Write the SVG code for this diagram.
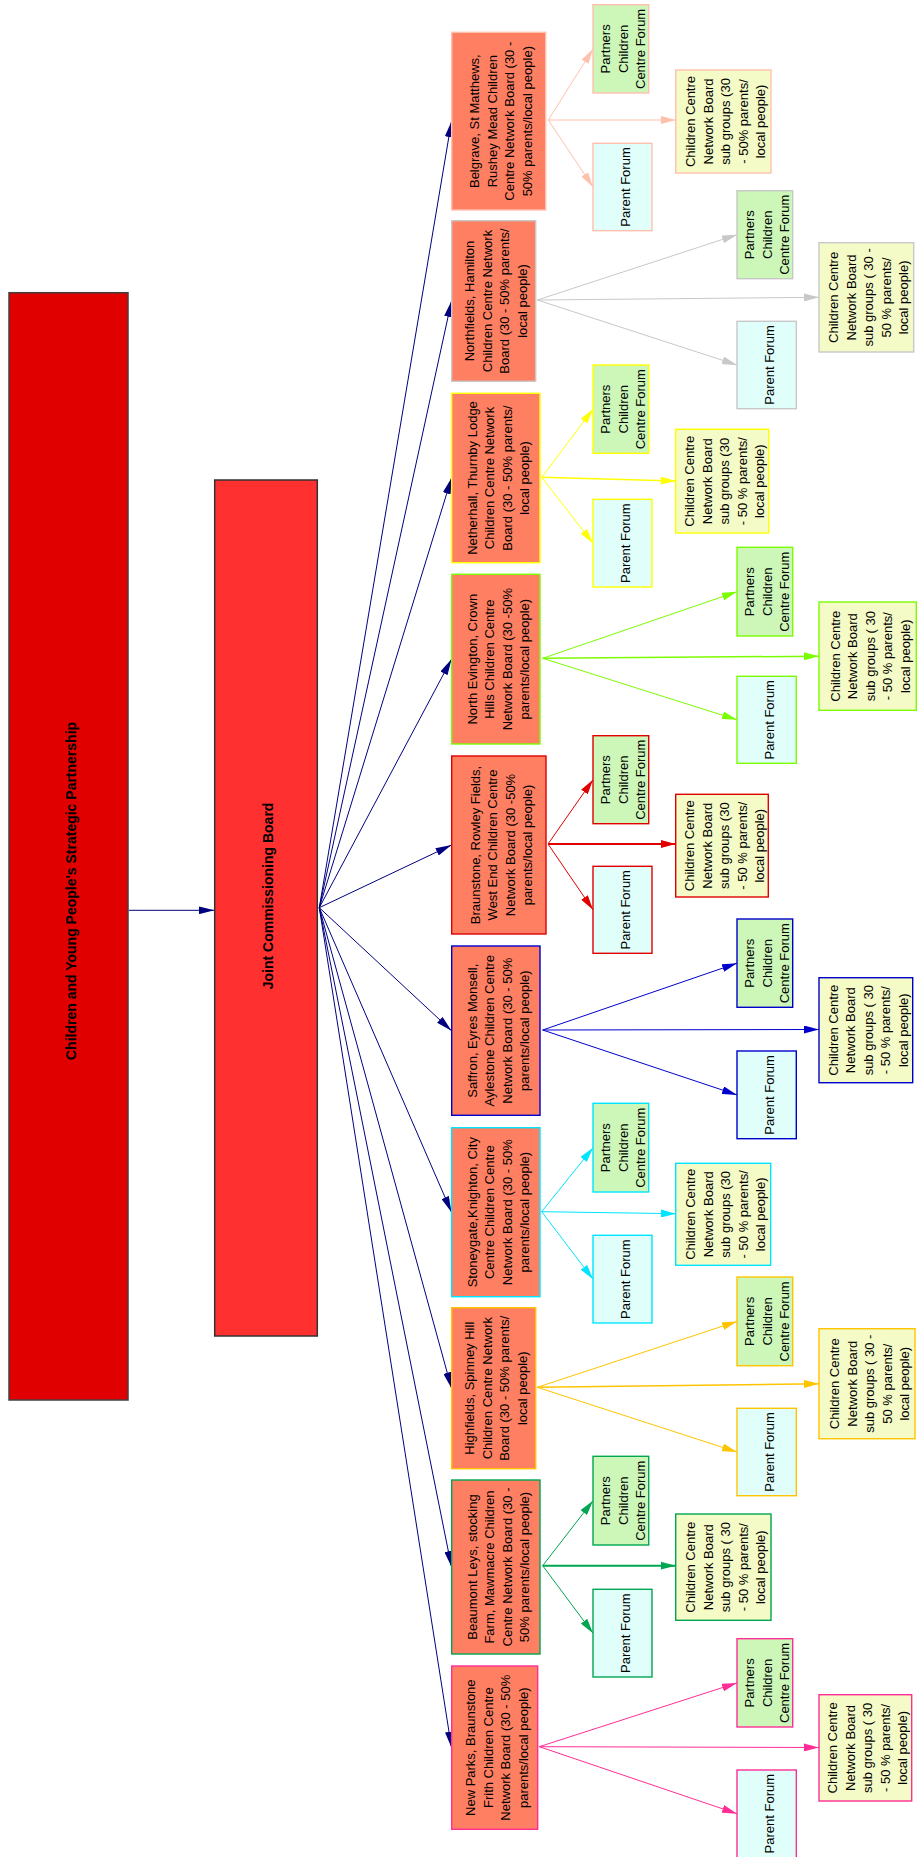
<svg xmlns="http://www.w3.org/2000/svg" width="917" height="1857" viewBox="0 0 917 1857">
<style>
text{font-family:"Liberation Sans",Arial,sans-serif;font-size:13px;fill:#000;text-anchor:middle}
.b{font-weight:bold;font-size:14px;text-anchor:start}
.area{fill:#FF7F62;stroke-width:1.4}
.pcf{fill:#CCF7B8;stroke-width:1.4}
.sub{fill:#F5FBC6;stroke-width:1.4}
.pf{fill:#E0FFFA;stroke-width:1.4}
.e{fill:none;stroke-width:1}
</style>
<defs>
<marker id="mN" viewBox="0 0 16 8" markerWidth="16" markerHeight="8" refX="16" refY="4" orient="auto" markerUnits="userSpaceOnUse"><path d="M0,0L16,4L0,8z" fill="#000080"/></marker>
<marker id="m1" viewBox="0 0 15 8" markerWidth="15" markerHeight="8" refX="15" refY="4" orient="auto" markerUnits="userSpaceOnUse"><path d="M0,0L15,4L0,8z" fill="#FFC0AE"/></marker>
<marker id="m2" viewBox="0 0 15 8" markerWidth="15" markerHeight="8" refX="15" refY="4" orient="auto" markerUnits="userSpaceOnUse"><path d="M0,0L15,4L0,8z" fill="#C8C8C8"/></marker>
<marker id="m3" viewBox="0 0 15 8" markerWidth="15" markerHeight="8" refX="15" refY="4" orient="auto" markerUnits="userSpaceOnUse"><path d="M0,0L15,4L0,8z" fill="#FFFF00"/></marker>
<marker id="m4" viewBox="0 0 15 8" markerWidth="15" markerHeight="8" refX="15" refY="4" orient="auto" markerUnits="userSpaceOnUse"><path d="M0,0L15,4L0,8z" fill="#7CFC00"/></marker>
<marker id="m5" viewBox="0 0 15 8" markerWidth="15" markerHeight="8" refX="15" refY="4" orient="auto" markerUnits="userSpaceOnUse"><path d="M0,0L15,4L0,8z" fill="#E00000"/></marker>
<marker id="m6" viewBox="0 0 15 8" markerWidth="15" markerHeight="8" refX="15" refY="4" orient="auto" markerUnits="userSpaceOnUse"><path d="M0,0L15,4L0,8z" fill="#0000CD"/></marker>
<marker id="m7" viewBox="0 0 15 8" markerWidth="15" markerHeight="8" refX="15" refY="4" orient="auto" markerUnits="userSpaceOnUse"><path d="M0,0L15,4L0,8z" fill="#00E5FF"/></marker>
<marker id="m8" viewBox="0 0 15 8" markerWidth="15" markerHeight="8" refX="15" refY="4" orient="auto" markerUnits="userSpaceOnUse"><path d="M0,0L15,4L0,8z" fill="#FFC400"/></marker>
<marker id="m9" viewBox="0 0 15 8" markerWidth="15" markerHeight="8" refX="15" refY="4" orient="auto" markerUnits="userSpaceOnUse"><path d="M0,0L15,4L0,8z" fill="#00A651"/></marker>
<marker id="m10" viewBox="0 0 15 8" markerWidth="15" markerHeight="8" refX="15" refY="4" orient="auto" markerUnits="userSpaceOnUse"><path d="M0,0L15,4L0,8z" fill="#FF2D95"/></marker>
</defs>
<rect width="917" height="1857" fill="#fff"/>
<g id="connectors">
<path class="e" stroke="#000080" d="M129,910.3L214.5,910.3" marker-end="url(#mN)"/>
<g stroke="#000080" class="e" marker-end="url(#mN)">
<path class="e" d="M319.3,907.7L451.5,121.2"/>
<path class="e" d="M319.3,907.7L451.5,301"/>
<path class="e" d="M319.3,907.7L451.5,478"/>
<path class="e" d="M319.3,907.7L451.5,659.2"/>
<path class="e" d="M319.3,907.7L451.5,845"/>
<path class="e" d="M319.3,907.7L451.5,1030.7"/>
<path class="e" d="M319.3,907.7L451.5,1212.2"/>
<path class="e" d="M319.3,907.7L451.5,1388.2"/>
<path class="e" d="M319.3,907.7L451.5,1567"/>
<path class="e" d="M319.3,907.7L451.5,1747.7"/>
</g>
<g class="e" stroke="#FFC0AE" marker-end="url(#m1)">
<path class="e" d="M548.3,120L593,48.9"/><path class="e" d="M548.3,120L675.7,120"/><path class="e" d="M548.3,120L593,187"/>
</g>
<g class="e" stroke="#C8C8C8" marker-end="url(#m2)">
<path class="e" d="M537.3,300L737,234.7"/><path class="e" d="M537.3,300L819,297.3"/><path class="e" d="M537.3,300L737,365"/>
</g>
<g class="e" stroke="#FFFF00" marker-end="url(#m3)">
<path class="e" d="M541.7,477.3L593,409.2"/><path class="e" style="stroke-width:1.5" d="M541.7,477.3L675.7,481"/><path class="e" d="M541.7,477.3L593,543.2"/>
</g>
<g class="e" stroke="#7CFC00" marker-end="url(#m4)">
<path class="e" d="M542.7,658.3L737,591.7"/><path class="e" style="stroke-width:1.5" d="M542.7,658.3L819,656.2"/><path class="e" d="M542.7,658.3L737,719.8"/>
</g>
<g class="e" stroke="#E00000" marker-end="url(#m5)">
<path class="e" d="M548,844L593,779.7"/><path class="e" style="stroke-width:2" d="M548,844L675.7,844"/><path class="e" d="M548,844L593,909.8"/>
</g>
<g class="e" stroke="#0000CD" marker-end="url(#m6)">
<path class="e" d="M542.7,1030L737,963.2"/><path class="e" d="M542.7,1030L819,1029.5"/><path class="e" d="M542.7,1030L737,1094.9"/>
</g>
<g class="e" stroke="#00E5FF" marker-end="url(#m7)">
<path class="e" d="M541.7,1211.7L593,1147.7"/><path class="e" d="M541.7,1211.7L675.7,1213.7"/><path class="e" d="M541.7,1211.7L593,1279.2"/>
</g>
<g class="e" stroke="#FFC400" marker-end="url(#m8)">
<path class="e" d="M537.3,1387.3L737,1321.4"/><path class="e" style="stroke-width:1.5" d="M537.3,1387.3L819,1383.7"/><path class="e" d="M537.3,1387.3L737,1452"/>
</g>
<g class="e" stroke="#00A651" marker-end="url(#m9)">
<path class="e" d="M542.7,1565.7L593,1500.7"/><path class="e" style="stroke-width:2" d="M542.7,1565.7L675.7,1565.7"/><path class="e" d="M542.7,1565.7L593,1633.2"/>
</g>
<g class="e" stroke="#FF2D95" marker-end="url(#m10)">
<path class="e" d="M539.3,1746.7L737,1682.9"/><path class="e" d="M539.3,1746.7L819,1747.5"/><path class="e" d="M539.3,1746.7L737,1813.7"/>
</g>
</g>

<g id="cyp">
<rect x="9" y="292.7" width="119" height="1107.3" fill="#E00000" stroke="#404040" stroke-width="1.5"/>
<text class="b" transform="translate(75.5,1060) rotate(-90)">Children and Young People's Strategic Partnership</text>
</g>
<g id="jcb">
<rect x="214.7" y="480" width="102.6" height="856" fill="#FF3030" stroke="#333" stroke-width="1.5"/>
<text class="b" transform="translate(273,989.3) rotate(-90)">Joint Commissioning Board</text>
</g>

<!-- Group 1 Belgrave -->
<g id="area1"><rect class="area" x="451.7" y="32.3" width="94" height="177.7" stroke="#FFC0AE"/>
<text transform="translate(498.7,121.2) rotate(-90)"><tspan x="0" y="-19.25">Belgrave, St Matthews,</tspan><tspan x="0" y="-1.75">Rushey Mead Children</tspan><tspan x="0" y="15.75">Centre Network Board (30 -</tspan><tspan x="0" y="33.25">50% parents/local people)</tspan></text></g>
<g id="pcf1"><rect class="pcf" x="593" y="4.7" width="55.7" height="88.3" stroke="#FFC0AE"/>
<text transform="translate(620.9,48.9) rotate(-90)"><tspan x="0" y="-10.5">Partners</tspan><tspan x="0" y="7">Children</tspan><tspan x="0" y="24.5">Centre Forum</tspan></text></g>
<g id="sub1"><rect class="sub" x="675.7" y="70" width="95.3" height="103" stroke="#FFC0AE"/>
<text transform="translate(723.4,121.5) rotate(-90)"><tspan x="0" y="-28">Children Centre</tspan><tspan x="0" y="-10.5">Network Board</tspan><tspan x="0" y="7">sub groups (30</tspan><tspan x="0" y="24.5">- 50% parents/</tspan><tspan x="0" y="42">local people)</tspan></text></g>
<g id="pf1"><rect class="pf" x="593" y="143.3" width="59" height="87.4" stroke="#FFC0AE"/>
<text transform="translate(622.5,187) rotate(-90)"><tspan x="0" y="7">Parent Forum</tspan></text></g>

<!-- Group 2 Northfields -->
<g id="area2"><rect class="area" x="451.7" y="220.7" width="84" height="160.6" stroke="#C8C8C8"/>
<text transform="translate(493.7,301) rotate(-90)"><tspan x="0" y="-19.25">Northfields, Hamilton</tspan><tspan x="0" y="-1.75">Children Centre Network</tspan><tspan x="0" y="15.75">Board (30 - 50% parents/</tspan><tspan x="0" y="33.25">local people)</tspan></text></g>
<g id="pcf2"><rect class="pcf" x="737" y="190.7" width="55.7" height="88" stroke="#C8C8C8"/>
<text transform="translate(764.9,234.7) rotate(-90)"><tspan x="0" y="-10.5">Partners</tspan><tspan x="0" y="7">Children</tspan><tspan x="0" y="24.5">Centre Forum</tspan></text></g>
<g id="sub2"><rect class="sub" x="819" y="242.7" width="94.7" height="109.3" stroke="#C8C8C8"/>
<text transform="translate(866.4,297.4) rotate(-90)"><tspan x="0" y="-28">Children Centre</tspan><tspan x="0" y="-10.5">Network Board</tspan><tspan x="0" y="7">sub groups ( 30 -</tspan><tspan x="0" y="24.5">50 % parents/</tspan><tspan x="0" y="42">local people)</tspan></text></g>
<g id="pf2"><rect class="pf" x="737" y="321.3" width="59.3" height="87.4" stroke="#C8C8C8"/>
<text transform="translate(766.7,365) rotate(-90)"><tspan x="0" y="7">Parent Forum</tspan></text></g>

<!-- Group 3 Netherhall -->
<g id="area3"><rect class="area" x="451.7" y="393.3" width="88.3" height="169.4" stroke="#FFFF00"/>
<text transform="translate(495.9,478) rotate(-90)"><tspan x="0" y="-19.25">Netherhall, Thurnby Lodge</tspan><tspan x="0" y="-1.75">Children Centre Network</tspan><tspan x="0" y="15.75">Board (30 - 50%  parents/</tspan><tspan x="0" y="33.25">local people)</tspan></text></g>
<g id="pcf3"><rect class="pcf" x="593" y="365" width="55.7" height="88.3" stroke="#FFFF00"/>
<text transform="translate(620.9,409.2) rotate(-90)"><tspan x="0" y="-10.5">Partners</tspan><tspan x="0" y="7">Children</tspan><tspan x="0" y="24.5">Centre Forum</tspan></text></g>
<g id="sub3"><rect class="sub" x="675.7" y="429.3" width="93" height="103.7" stroke="#FFFF00"/>
<text transform="translate(722.2,481.2) rotate(-90)"><tspan x="0" y="-28">Children Centre</tspan><tspan x="0" y="-10.5">Network Board</tspan><tspan x="0" y="7">sub groups (30</tspan><tspan x="0" y="24.5">- 50 % parents/</tspan><tspan x="0" y="42">local people)</tspan></text></g>
<g id="pf3"><rect class="pf" x="593" y="499.3" width="59" height="87.7" stroke="#FFFF00"/>
<text transform="translate(622.5,543.2) rotate(-90)"><tspan x="0" y="7">Parent Forum</tspan></text></g>

<!-- Group 4 North Evington -->
<g id="area4"><rect class="area" x="451.7" y="574.3" width="88.3" height="169.7" stroke="#7CFC00"/>
<text transform="translate(495.9,659.2) rotate(-90)"><tspan x="0" y="-19.25">North Evington, Crown</tspan><tspan x="0" y="-1.75">Hills Children Centre</tspan><tspan x="0" y="15.75">Network Board (30 -50%</tspan><tspan x="0" y="33.25">parents/local people)</tspan></text></g>
<g id="pcf4"><rect class="pcf" x="737" y="547.3" width="55.7" height="88.7" stroke="#7CFC00"/>
<text transform="translate(764.9,591.7) rotate(-90)"><tspan x="0" y="-10.5">Partners</tspan><tspan x="0" y="7">Children</tspan><tspan x="0" y="24.5">Centre Forum</tspan></text></g>
<g id="sub4"><rect class="sub" x="819" y="602" width="97.3" height="108.3" stroke="#7CFC00"/>
<text transform="translate(867.7,656.2) rotate(-90)"><tspan x="0" y="-28">Children Centre</tspan><tspan x="0" y="-10.5">Network Board</tspan><tspan x="0" y="7">sub groups ( 30</tspan><tspan x="0" y="24.5">- 50 % parents/</tspan><tspan x="0" y="42">local people)</tspan></text></g>
<g id="pf4"><rect class="pf" x="737" y="676.3" width="59.3" height="87" stroke="#7CFC00"/>
<text transform="translate(766.7,719.8) rotate(-90)"><tspan x="0" y="7">Parent Forum</tspan></text></g>

<!-- Group 5 Braunstone -->
<g id="area5"><rect class="area" x="451.7" y="756" width="94.3" height="178" stroke="#E00000"/>
<text transform="translate(498.9,845) rotate(-90)"><tspan x="0" y="-19.25">Braunstone, Rowley Fields,</tspan><tspan x="0" y="-1.75">West End Children Centre</tspan><tspan x="0" y="15.75">Network Board (30 -50%</tspan><tspan x="0" y="33.25">parents/local people)</tspan></text></g>
<g id="pcf5"><rect class="pcf" x="593" y="735.7" width="55.7" height="88" stroke="#E00000"/>
<text transform="translate(620.9,779.7) rotate(-90)"><tspan x="0" y="-10.5">Partners</tspan><tspan x="0" y="7">Children</tspan><tspan x="0" y="24.5">Centre Forum</tspan></text></g>
<g id="sub5"><rect class="sub" x="675.7" y="794.3" width="92.6" height="102.7" stroke="#E00000"/>
<text transform="translate(722,845.7) rotate(-90)"><tspan x="0" y="-28">Children Centre</tspan><tspan x="0" y="-10.5">Network Board</tspan><tspan x="0" y="7">sub groups (30</tspan><tspan x="0" y="24.5">- 50 % parents/</tspan><tspan x="0" y="42">local people)</tspan></text></g>
<g id="pf5"><rect class="pf" x="593" y="866.3" width="59" height="87" stroke="#E00000"/>
<text transform="translate(622.5,909.8) rotate(-90)"><tspan x="0" y="7">Parent Forum</tspan></text></g>

<!-- Group 6 Saffron -->
<g id="area6"><rect class="area" x="451.7" y="946" width="88.3" height="169.3" stroke="#0000CD"/>
<text transform="translate(495.9,1030.7) rotate(-90)"><tspan x="0" y="-19.25">Saffron, Eyres Monsell,</tspan><tspan x="0" y="-1.75">Aylestone Children Centre</tspan><tspan x="0" y="15.75">Network Board (30 - 50%</tspan><tspan x="0" y="33.25">parents/local people)</tspan></text></g>
<g id="pcf6"><rect class="pcf" x="737" y="919" width="55.7" height="88.3" stroke="#0000CD"/>
<text transform="translate(764.9,963.2) rotate(-90)"><tspan x="0" y="-10.5">Partners</tspan><tspan x="0" y="7">Children</tspan><tspan x="0" y="24.5">Centre Forum</tspan></text></g>
<g id="sub6"><rect class="sub" x="819" y="977.7" width="93.7" height="105" stroke="#0000CD"/>
<text transform="translate(865.9,1030.2) rotate(-90)"><tspan x="0" y="-28">Children Centre</tspan><tspan x="0" y="-10.5">Network Board</tspan><tspan x="0" y="7">sub groups ( 30</tspan><tspan x="0" y="24.5">- 50 % parents/</tspan><tspan x="0" y="42">local people)</tspan></text></g>
<g id="pf6"><rect class="pf" x="737" y="1051" width="59.3" height="87.7" stroke="#0000CD"/>
<text transform="translate(766.7,1094.9) rotate(-90)"><tspan x="0" y="7">Parent Forum</tspan></text></g>

<!-- Group 7 Stoneygate -->
<g id="area7"><rect class="area" x="451.7" y="1127.7" width="88.3" height="169" stroke="#00E5FF"/>
<text transform="translate(495.9,1212.2) rotate(-90)"><tspan x="0" y="-19.25">Stoneygate,Knighton, City</tspan><tspan x="0" y="-1.75">Centre Children Centre</tspan><tspan x="0" y="15.75">Network Board (30 - 50%</tspan><tspan x="0" y="33.25">parents/local people)</tspan></text></g>
<g id="pcf7"><rect class="pcf" x="593" y="1103.3" width="55.7" height="88.7" stroke="#00E5FF"/>
<text transform="translate(620.9,1147.7) rotate(-90)"><tspan x="0" y="-10.5">Partners</tspan><tspan x="0" y="7">Children</tspan><tspan x="0" y="24.5">Centre Forum</tspan></text></g>
<g id="sub7"><rect class="sub" x="675.7" y="1163.3" width="95" height="102" stroke="#00E5FF"/>
<text transform="translate(723.2,1214.3) rotate(-90)"><tspan x="0" y="-28">Children Centre</tspan><tspan x="0" y="-10.5">Network Board</tspan><tspan x="0" y="7">sub groups (30</tspan><tspan x="0" y="24.5">- 50 % parents/</tspan><tspan x="0" y="42">local people)</tspan></text></g>
<g id="pf7"><rect class="pf" x="593" y="1235.3" width="59" height="87.7" stroke="#00E5FF"/>
<text transform="translate(622.5,1279.2) rotate(-90)"><tspan x="0" y="7">Parent Forum</tspan></text></g>

<!-- Group 8 Highfields -->
<g id="area8"><rect class="area" x="451.7" y="1307.7" width="84" height="161" stroke="#FFC400"/>
<text transform="translate(493.7,1388.2) rotate(-90)"><tspan x="0" y="-19.25">Highfields, Spinney Hill</tspan><tspan x="0" y="-1.75">Children Centre Network</tspan><tspan x="0" y="15.75">Board (30 - 50%  parents/</tspan><tspan x="0" y="33.25">local people)</tspan></text></g>
<g id="pcf8"><rect class="pcf" x="737" y="1277" width="55.7" height="88.7" stroke="#FFC400"/>
<text transform="translate(764.9,1321.4) rotate(-90)"><tspan x="0" y="-10.5">Partners</tspan><tspan x="0" y="7">Children</tspan><tspan x="0" y="24.5">Centre Forum</tspan></text></g>
<g id="sub8"><rect class="sub" x="819" y="1328.7" width="96" height="110" stroke="#FFC400"/>
<text transform="translate(867,1383.7) rotate(-90)"><tspan x="0" y="-28">Children Centre</tspan><tspan x="0" y="-10.5">Network Board</tspan><tspan x="0" y="7">sub groups ( 30 -</tspan><tspan x="0" y="24.5">50 % parents/</tspan><tspan x="0" y="42">local people)</tspan></text></g>
<g id="pf8"><rect class="pf" x="737" y="1408.3" width="59.3" height="87.4" stroke="#FFC400"/>
<text transform="translate(766.7,1452) rotate(-90)"><tspan x="0" y="7">Parent Forum</tspan></text></g>

<!-- Group 9 Beaumont -->
<g id="area9"><rect class="area" x="451.7" y="1480" width="88.3" height="174" stroke="#00A651"/>
<text transform="translate(495.9,1567) rotate(-90)"><tspan x="0" y="-19.25">Beaumont Leys,  stocking</tspan><tspan x="0" y="-1.75">Farm, Mawmacre Children</tspan><tspan x="0" y="15.75">Centre Network Board (30 -</tspan><tspan x="0" y="33.25">50% parents/local people)</tspan></text></g>
<g id="pcf9"><rect class="pcf" x="593" y="1456.3" width="55.7" height="88.7" stroke="#00A651"/>
<text transform="translate(620.9,1500.7) rotate(-90)"><tspan x="0" y="-10.5">Partners</tspan><tspan x="0" y="7">Children</tspan><tspan x="0" y="24.5">Centre Forum</tspan></text></g>
<g id="sub9"><rect class="sub" x="675.7" y="1514" width="95.3" height="106.3" stroke="#00A651"/>
<text transform="translate(723.4,1567.2) rotate(-90)"><tspan x="0" y="-28">Children Centre</tspan><tspan x="0" y="-10.5">Network Board</tspan><tspan x="0" y="7">sub groups ( 30</tspan><tspan x="0" y="24.5">- 50 % parents/</tspan><tspan x="0" y="42">local people)</tspan></text></g>
<g id="pf9"><rect class="pf" x="593" y="1589.3" width="59" height="87.7" stroke="#00A651"/>
<text transform="translate(622.5,1633.2) rotate(-90)"><tspan x="0" y="7">Parent Forum</tspan></text></g>

<!-- Group 10 New Parks -->
<g id="area10"><rect class="area" x="451.7" y="1666" width="86" height="163.3" stroke="#FF2D95"/>
<text transform="translate(494.7,1747.7) rotate(-90)"><tspan x="0" y="-19.25">New Parks, Braunstone</tspan><tspan x="0" y="-1.75">Frith Children Centre</tspan><tspan x="0" y="15.75">Network Board (30 - 50%</tspan><tspan x="0" y="33.25">parents/local people)</tspan></text></g>
<g id="pcf10"><rect class="pcf" x="737" y="1638.7" width="55.7" height="88.3" stroke="#FF2D95"/>
<text transform="translate(764.9,1682.9) rotate(-90)"><tspan x="0" y="-10.5">Partners</tspan><tspan x="0" y="7">Children</tspan><tspan x="0" y="24.5">Centre Forum</tspan></text></g>
<g id="sub10"><rect class="sub" x="819" y="1694.7" width="92.7" height="106.3" stroke="#FF2D95"/>
<text transform="translate(865.4,1747.9) rotate(-90)"><tspan x="0" y="-28">Children Centre</tspan><tspan x="0" y="-10.5">Network Board</tspan><tspan x="0" y="7">sub groups ( 30</tspan><tspan x="0" y="24.5">- 50 % parents/</tspan><tspan x="0" y="42">local people)</tspan></text></g>
<g id="pf10"><rect class="pf" x="737" y="1770" width="59.3" height="88" stroke="#FF2D95"/>
<text transform="translate(766.7,1813.7) rotate(-90)"><tspan x="0" y="7">Parent Forum</tspan></text></g>
</svg>
